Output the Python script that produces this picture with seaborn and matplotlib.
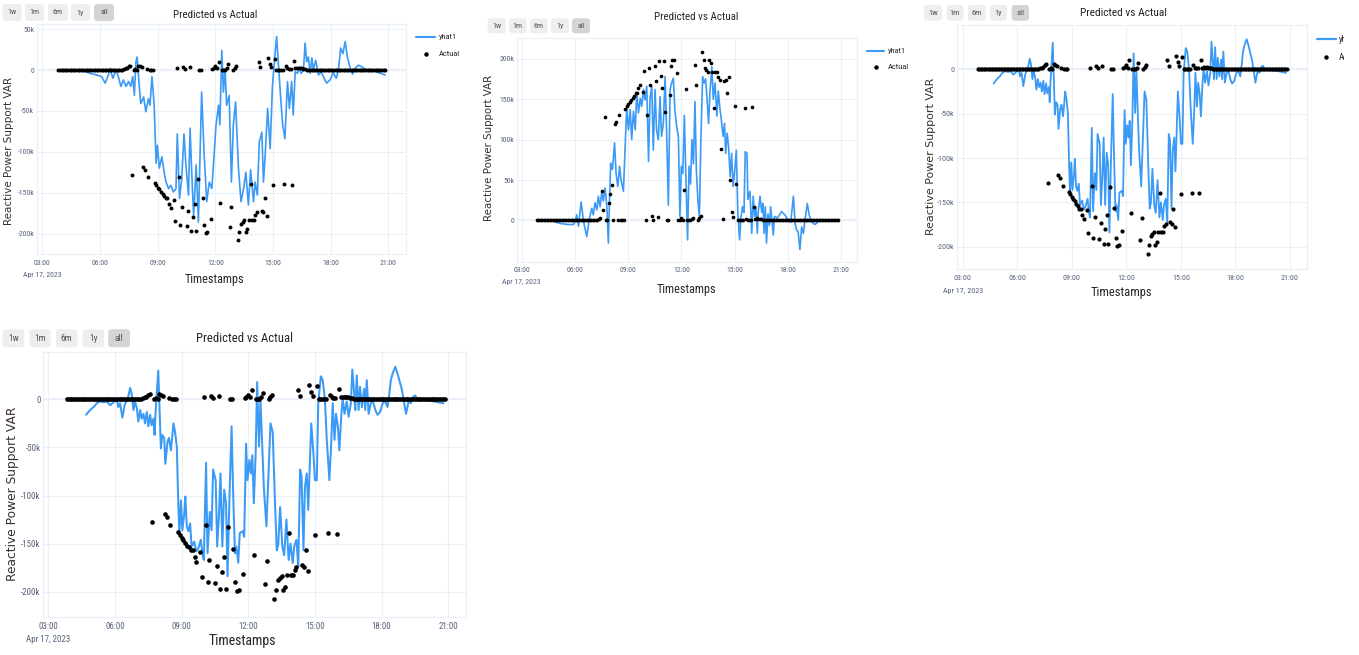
import numpy as np
import pandas as pd
import matplotlib
matplotlib.use("Agg")
import matplotlib.pyplot as plt
import matplotlib.dates as mdates
import matplotlib.transforms as mtransforms
from matplotlib.patches import FancyBboxPatch, Rectangle
from matplotlib.lines import Line2D
from matplotlib import font_manager
import seaborn as sns

DAY = "2023-04-17"

# ---------------------------------------------------------------------------
# Forecast (yhat1) traces, reactive power in kVAR
# ---------------------------------------------------------------------------
# model run A (first panel)
pred_a_times = [
    "04:40", "05:00", "05:15", "05:29", "05:50", "06:05", "06:16", "06:26", "06:31", "06:40",
    "06:50", "06:57", "07:05", "07:13", "07:21", "07:29", "07:36", "07:42", "07:47", "07:52",
    "07:56", "08:02", "08:07", "08:16", "08:23", "08:31", "08:36", "08:42", "08:49", "08:55",
    "08:59", "09:05", "09:13", "09:20", "09:26", "09:34", "09:41", "09:49", "09:57", "10:01",
    "10:08", "10:15", "10:22", "10:28", "10:36", "10:41", "10:46", "10:52", "11:00", "11:07",
    "11:17", "11:25", "11:33", "11:41", "11:49", "11:56", "12:02", "12:10", "12:14", "12:20",
    "12:25", "12:30", "12:35", "12:43", "12:50", "12:56", "13:03", "13:12", "13:20", "13:28",
    "13:35", "13:43", "13:50", "13:59", "14:04", "14:11", "14:17", "14:25", "14:30", "14:36",
    "14:43", "14:51", "14:58", "15:04", "15:11", "15:18", "15:24", "15:30", "15:37", "15:45",
    "15:51", "15:58", "16:03", "16:09", "16:16", "16:22", "16:28", "16:35", "16:40", "16:45",
    "16:50", "16:56", "17:01", "17:06", "17:13", "17:22", "17:29", "17:37", "17:47", "17:58",
    "18:08", "18:17", "18:24", "18:31", "18:38", "18:45", "18:52", "19:01", "19:08", "19:16",
    "19:26", "19:37", "19:47", "20:03", "20:23", "20:50",
]
pred_a_k = [
    0, -1, -2, -4, -6, -8, -16, -6, 2, -10,
    0, -8, -20, -12, -20, -14, -20, -8, -31, 10,
    16, -18, -41, -33, -51, -35, -43, -8, -43, -114,
    -92, -120, -106, -125, -137, -145, -141, -149, -145, -78,
    -157, -133, -78, -116, -153, -71, -124, -178, -116, -186,
    -27, -104, -161, -137, -145, -104, -67, -43, -67, 24,
    -27, 2, -43, -31, -137, -67, -39, -120, -161, -145,
    -125, -165, -122, -161, -137, -153, -88, -76, -137, -100,
    -47, -96, -20, 10, 41, 0, -35, -67, -84, -14,
    -47, -14, -55, -2, -4, 2, -4, 0, 33, 10,
    16, -4, 15, 0, 12, -6, -2, -8, -16, -12,
    -3, -10, 0, 27, 20, 35, 16, 2, -5, 2,
    6, 4, 1, 0, -2, -6,
]

# model run B (third and fourth panels)
pred_b_times = [
    "04:42", "04:53", "05:02", "05:11", "05:20", "05:29", "05:38", "05:47", "05:56", "06:05",
    "06:09", "06:14", "06:20", "06:26", "06:32", "06:36", "06:41", "06:45", "06:50", "06:54",
    "06:59", "07:03", "07:08", "07:12", "07:17", "07:21", "07:26", "07:30", "07:35", "07:39",
    "07:44", "07:47", "07:50", "07:53", "07:57", "08:00", "08:04", "08:08", "08:13", "08:16",
    "08:22", "08:26", "08:31", "08:34", "08:38", "08:42", "08:47", "08:51", "08:54", "08:58",
    "09:02", "09:07", "09:10", "09:14", "09:18", "09:23", "09:27", "09:34", "09:40", "09:45",
    "09:52", "09:56", "10:00", "10:06", "10:10", "10:16", "10:21", "10:25", "10:32", "10:36",
    "10:41", "10:45", "10:50", "10:55", "11:00", "11:04", "11:09", "11:15", "11:19", "11:24",
    "11:28", "11:33", "11:37", "11:45", "11:49", "11:54", "11:58", "12:03", "12:07", "12:11",
    "12:15", "12:20", "12:24", "12:29", "12:33", "12:39", "12:42", "12:49", "13:00", "13:06",
    "13:12", "13:17", "13:21", "13:26", "13:32", "13:37", "13:43", "13:49", "13:54", "14:00",
    "14:04", "14:10", "14:15", "14:20", "14:24", "14:29", "14:33", "14:38", "14:42", "14:50",
    "14:56", "15:00", "15:05", "15:09", "15:16", "15:21", "15:27", "15:32", "15:39", "15:44",
    "15:48", "15:53", "15:57", "16:02", "16:06", "16:11", "16:15", "16:20", "16:26", "16:31",
    "16:37", "16:41", "16:46", "16:49", "16:53", "16:58", "17:02", "17:07", "17:13", "17:16",
    "17:20", "17:25", "17:31", "17:36", "17:43", "17:49", "17:56", "18:03", "18:10", "18:16",
    "18:21", "18:25", "18:30", "18:37", "18:43", "18:50", "18:55", "19:01", "19:06", "19:13",
    "19:19", "19:26", "19:31", "19:35", "19:44", "19:58", "20:20", "20:47",
]
pred_b_k = [
    -16, -11, -8, -4, -2, -3, -2, -6, -3, 0,
    -8, -4, -19, -6, -1, 3, 12, 6, -11, -2,
    -9, -23, -11, -20, -15, -25, -13, -28, -16, -27,
    -20, -37, -11, 6, 30, -4, -51, -37, -40, -67,
    -44, -40, -53, -42, -25, -33, -49, -108, -139, -105,
    -136, -119, -101, -132, -137, -129, -153, -148, -158, -155,
    -146, -160, -167, -66, -160, -117, -136, -73, -84, -153,
    -119, -77, -153, -94, -108, -184, -105, -28, -94, -160,
    -153, -170, -139, -137, -143, -46, -84, -63, -77, -58,
    -108, -56, 18, -49, -1, -63, -91, -132, -25, -34,
    -105, -157, -151, -112, -153, -162, -125, -167, -150, -170,
    -153, -146, -174, -73, -80, -157, -91, -77, -115, -25,
    -56, -84, -84, -4, 24, 20, 0, -42, -84, -46,
    -4, -42, -15, -28, -53, -18, 1, -15, -2, -18,
    -4, 31, 6, -11, 25, -11, 13, -8, 11, -11,
    20, -15, -4, -1, -11, -16, -13, -4, -2, -8,
    6, 20, 27, 34, 27, 17, 10, -4, -15, -2,
    -4, 3, 4, 1, 0, -1, -2, -4,
]

# model run C (second panel, positive support)
pred_c_times = [
    "04:53", "05:15", "05:38", "05:55", "06:01", "06:06", "06:12", "06:21", "06:29", "06:40",
    "06:48", "06:57", "07:02", "07:08", "07:14", "07:19", "07:25", "07:31", "07:36", "07:42",
    "07:48", "07:53", "07:57", "08:01", "08:07", "08:14", "08:19", "08:25", "08:31", "08:36",
    "08:44", "08:50", "08:55", "09:01", "09:07", "09:12", "09:18", "09:24", "09:29", "09:35",
    "09:41", "09:46", "09:52", "09:57", "10:03", "10:09", "10:14", "10:20", "10:25", "10:31",
    "10:36", "10:42", "10:48", "10:53", "10:59", "11:05", "11:10", "11:16", "11:22", "11:27",
    "11:33", "11:38", "11:44", "11:50", "11:55", "12:00", "12:05", "12:10", "12:15", "12:21",
    "12:26", "12:31", "12:36", "12:41", "12:46", "12:51", "12:56", "13:01", "13:06", "13:12",
    "13:17", "13:22", "13:27", "13:32", "13:37", "13:43", "13:48", "13:54", "14:00", "14:05",
    "14:10", "14:15", "14:21", "14:26", "14:30", "14:35", "14:40", "14:45", "14:50", "14:55",
    "15:00", "15:06", "15:11", "15:17", "15:22", "15:27", "15:32", "15:36", "15:42", "15:45",
    "15:52", "15:58", "16:03", "16:08", "16:12", "16:17", "16:20", "16:26", "16:32", "16:36",
    "16:40", "16:44", "16:48", "16:53", "16:58", "17:02", "17:07", "17:11", "17:15", "17:25",
    "17:39", "17:50", "18:02", "18:10", "18:19", "18:25", "18:30", "18:35", "18:41", "18:47",
    "18:53", "18:58", "19:06", "19:13", "19:21", "19:32", "19:45", "20:00", "20:20", "20:50",
]
pred_c_k = [
    -2, -4, -5, -5, -1, 7, -7, 23, -1, -20,
    1, 15, 7, 22, 13, 30, 17, 36, 24, 40,
    17, -28, 26, 71, 63, 96, 59, 42, 67, 50,
    36, 92, 139, 112, 137, 100, 135, 112, 158, 133,
    151, 141, 162, 149, 166, 73, 151, 166, 87, 162,
    112, 100, 153, 104, 120, 178, 112, 19, 162, 170,
    176, 137, 116, 104, 5, 67, 58, 130, 60, -24,
    67, 45, 100, 70, 147, 60, 25, 5, 100, 178,
    170, 175, 150, 120, 160, 190, 150, 170, 129, 160,
    140, 125, 104, 120, 83, 108, 90, 54, 83, 42,
    60, 87, 9, -24, 5, 17, 10, 85, 83, 26,
    36, -16, 30, 5, 17, -16, 10, 30, 10, 21,
    -16, 17, -28, 8, -6, 17, -2, -18, 5, 3,
    11, 7, 0, -2, 30, -4, -12, -14, -36, -8,
    -16, 0, 21, 6, -2, -5, -1, 0, 0, 1,
]

# ---------------------------------------------------------------------------
# Measured reactive power, one reading every 5 minutes from 03:50 to 20:50
# (None = no reading)
# ---------------------------------------------------------------------------
ACTUAL_START = "03:50"

actual_neg_k = [
    # 03:50 - 07:10
    0, 0, 0, 0, 0, 0, 0, 0, 0, 0,
    0, 0, 0, 0, 0, 0, 0, 0, 0, 0,
    0, 0, 0, 0, 0, 0, 0, 0, 0, 0,
    0, 0, 0, 0, 0, 0, 0, 0, 0, 0,
    0,
    # 07:15 - 16:40
    1, 2, 3, 4.5, 5.5, -128, 0, 1, 0, 5.5,
    5, 4, -119, -122, 1, -131, 0, 0, 0, -138,
    -141, -144, -146, -149, -152, -154, -157, -157, -164, -169,
    None, -159, -185, 2, -131, -190, -167, 4, 1, -191,
    -173, 4, -197, -180, -164, -197, -133, 0, 0, -156,
    -190, -199, -198, None, -182, 1, 3, 4.5, 2, 10,
    -162, 0, 0, 0, 2, 7, -192, -168, 0, 3,
    5, -208, -198, -188, -186, -184, -198, -195, -183, -139,
    -183, -183, -177, -174, 10, 4, -172, -174, -157, -178,
    15, 8, 4, -141, 14, 0, 0, 0, 0, 0,
    -139, 4.5, 2, 1, 1, -140, 11, 2, 3, 2,
    3, 2, 1, 1,
    # 16:45 - 20:50
    0, 0, 0, 0, 0, 0, 0, 0, 0, 0,
    0, 0, 0, 0, 0, 0, 0, 0, 0, 0,
    0, 0, 0, 0, 0, 0, 0, 0, 0, 0,
    0, 0, 0, 0, 0, 0, 0, 0, 0, 0,
    0, 0, 0, 0, 0, 0, 0, 0, 0, 0,
]

actual_pos_k = [
    # 03:50 - 07:10
    0, 0, 0, 0, 0, 0, 0, 0, 0, 0,
    0, 0, 0, 0, 0, 0, 0, 0, 0, 0,
    0, 0, 0, 0, 0, 0, 0, 0, 0, 0,
    0, 0, 0, 0, 0, 0, 0, 0, 0, 0,
    0,
    # 07:15 - 16:40
    1, 2, 3, 37, 13, 128, 0, 0, 22, 33,
    44, 0, 119, 122, 0, 131, 0, 0, 0, 138,
    141, 144, 146, 149, 152, 154, 157, 157, 164, 168,
    None, 159, 185, 1, 131, 189, 167, 5, 1, 191,
    173, 4, 197, 179, 164, 197, 134, 0, 0, 155,
    191, 199, 198, None, 182, 0, 1, 3, 1, 38,
    162, 0, 0, 0, 2, 3, 192, 168, 0, 3,
    5, 208, 198, 188, 186, 184, 198, 195, 183, 139,
    183, 183, 177, 174, 88, 2, 172, 174, 157, 178,
    50, 10, 4, 141, 45, 0, 0, 0, 0, 0,
    139, 2, 1, 1, 1, 140, 17, 2, 3, 2,
    2, 2, 1, 1,
    # 16:45 - 20:50
    0, 0, 0, 0, 0, 0, 0, 0, 0, 0,
    0, 0, 0, 0, 0, 0, 0, 0, 0, 0,
    0, 0, 0, 0, 0, 0, 0, 0, 0, 0,
    0, 0, 0, 0, 0, 0, 0, 0, 0, 0,
    0, 0, 0, 0, 0, 0, 0, 0, 0, 0,
]

range_buttons = ["1w", "1m", "6m", "1y", "all"]
neg_ticks = [50, 0, -50, -100, -150, -200]
pos_ticks = [0, 50, 100, 150, 200]


# ---------------------------------------------------------------------------
# helpers
# ---------------------------------------------------------------------------
def stamp(hhmm):
    return pd.Timestamp(f"{DAY} {hhmm}")


def hours(h):
    return pd.Timestamp(DAY) + pd.Timedelta(hours=h)


def line_frame(times, values):
    return pd.DataFrame({"ds": [stamp(t) for t in times],
                         "y": np.array(values, dtype=float) * 1000.0})


def actual_frame(values):
    ds = pd.date_range(stamp(ACTUAL_START), periods=len(values), freq="5min")
    y = np.array([np.nan if v is None else v for v in values], dtype=float) * 1000.0
    return pd.DataFrame({"ds": ds, "y": y}).dropna()


def k_label(v):
    if v == 0:
        return "0"
    return ("-" if v < 0 else "") + f"{abs(int(v))}k"


sns.set_theme(style="white")
available = {f.name for f in font_manager.fontManager.ttflist}
NARROW = next((f for f in ["Liberation Sans Narrow", "Roboto Condensed",
                           "Open Sans Condensed", "Liberation Sans"] if f in available),
              "DejaVu Sans")
plt.rcParams["font.family"] = [NARROW, "DejaVu Sans"]

W, H = 1359, 655
fig = plt.figure(figsize=(W / 100, H / 100), dpi=100)
fig.patch.set_facecolor("white")

# pixel coordinates, origin top-left
PX = mtransforms.Affine2D().scale(1.0 / W, -1.0 / H).translate(0, 1) + fig.transFigure

LINE_C = "#3b9af5"
GRID_C = "#ebf0f8"
TICK_C = "#55627a"
TITLE_C = "#262626"
YLAB_C = "#3a2f28"

panels = [
    dict(box=(37, 24.3, 405.7, 254), xr=(2.72, 21.9), yr=(-225, 56),
         line=line_frame(pred_a_times, pred_a_k), act=actual_frame(actual_neg_k),
         yt=neg_ticks, title=(215, 15), tfs=7.9, tick_fs=5.6, tick_y=263.3,
         date=(42.3, 274.5), xlab=(214, 279.5), xfs=8.7, ylab=(9, 151), yfs=7.5,
         btn_y=(4, 21), btn_x=[(2.7, 21.7), (25, 44), (48, 68), (71, 90), (94, 114)],
         legend=dict(line=(416, 435, 37.3), text=439, mark=(425.7, 54)),
         lw=1.2, ms=8),
    dict(box=(517.3, 37.7, 857.3, 261.7), xr=(2.75, 21.92), yr=(-51, 226),
         line=line_frame(pred_c_times, pred_c_k), act=actual_frame(actual_pos_k),
         yt=pos_ticks, title=(696, 17), tfs=7.9, tick_fs=5.6, tick_y=270,
         date=(521.7, 281.7), xlab=(686, 289.5), xfs=8.7, ylab=(489.3, 147.5), yfs=7.4,
         btn_y=(18.3, 33.3),
         btn_x=[(487.7, 505.7), (509, 526.7), (530, 547.7), (551, 569), (572, 590)],
         legend=dict(line=(867, 884, 50.7), text=888, mark=(875.7, 66.7)),
         lw=1.2, ms=7),
    dict(box=(957.3, 25, 1306.7, 269.3), xr=(2.70, 21.92), yr=(-225.5, 50),
         line=line_frame(pred_b_times, pred_b_k), act=actual_frame(actual_neg_k),
         yt=neg_ticks[1:], title=(1123, 13), tfs=8.2, tick_fs=5.8, tick_y=278.3,
         date=(962.7, 291), xlab=(1121, 292.5), xfs=9.0, ylab=(931.0, 156.7), yfs=7.9,
         btn_y=(5, 20.7),
         btn_x=[(924, 942), (946.7, 963.3), (968, 985.7), (990, 1007), (1011.7, 1029)],
         legend=dict(line=(1316.7, 1335.7, 39.3), text=1338.5, mark=(1325.7, 57.3)),
         lw=1.3, ms=9),
    dict(box=(43.3, 352.3, 466, 616.7), xr=(2.775, 21.8), yr=(-226, 49),
         line=line_frame(pred_b_times, pred_b_k), act=actual_frame(actual_neg_k),
         yt=neg_ticks[1:], title=(245, 338.3), tfs=9.1, tick_fs=6.4, tick_y=626,
         date=(48.3, 640), xlab=(242, 641.5), xfs=10.0, ylab=(12.3, 494), yfs=8.8,
         btn_y=(329.3, 347.3),
         btn_x=[(2.7, 24.3), (29.3, 50.7), (56, 77.3), (82.7, 104), (108.3, 130)],
         legend=None, lw=1.45, ms=11),
]

for p in panels:
    x0, y0, x1, y1 = p["box"]
    ax = fig.add_axes([x0 / W, 1 - y1 / H, (x1 - x0) / W, (y1 - y0) / H])
    ax.set_facecolor("white")

    sns.lineplot(data=p["line"], x="ds", y="y", ax=ax, color=LINE_C,
                 linewidth=p["lw"], estimator=None, legend=False, zorder=2)
    sns.scatterplot(data=p["act"], x="ds", y="y", ax=ax, color="black",
                    s=p["ms"], linewidth=0, legend=False, zorder=3)

    ax.set_xlim(hours(p["xr"][0]), hours(p["xr"][1]))
    ax.set_ylim(p["yr"][0] * 1000, p["yr"][1] * 1000)
    ax.xaxis.set_major_locator(mdates.HourLocator(byhour=range(3, 22, 3)))
    ax.xaxis.set_major_formatter(mdates.DateFormatter("%H:%M"))
    ax.set_yticks([v * 1000 for v in p["yt"]])
    ax.set_yticklabels([k_label(v) for v in p["yt"]])
    ax.grid(True, color=GRID_C, linewidth=0.8, zorder=0)
    ax.axhline(0, color=GRID_C, linewidth=1.6, zorder=1)
    ax.set_axisbelow(True)
    for sp in ax.spines.values():
        sp.set_color(GRID_C)
        sp.set_linewidth(0.9)
    ax.tick_params(axis="both", length=0, colors=TICK_C, labelsize=p["tick_fs"])
    ax.tick_params(axis="y", pad=2)
    ax.tick_params(axis="x", pad=(p["tick_y"] - y1) * 0.72 - p["tick_fs"] * 0.45)
    ax.set_xlabel("")
    ax.set_ylabel("")

    # title, axis titles and date stamp
    fig.text(*p["title"], "Predicted vs Actual", transform=PX, ha="center", va="center",
             fontsize=p["tfs"], color=TITLE_C)
    fig.text(*p["xlab"], "Timestamps", transform=PX, ha="center", va="center",
             fontsize=p["xfs"], color=TITLE_C)
    fig.text(*p["date"], "Apr 17, 2023", transform=PX, ha="center", va="center",
             fontsize=p["tick_fs"], color=TICK_C)
    fig.text(*p["ylab"], "Reactive Power Support VAR", transform=PX, ha="center",
             va="center", rotation=90, fontsize=p["yfs"], color=YLAB_C,
             family=["DejaVu Sans"])

    # range selector buttons
    by0, by1 = p["btn_y"]
    for label, (bx0, bx1) in zip(range_buttons, p["btn_x"]):
        active = label == "all"
        box = FancyBboxPatch((bx0, by0), bx1 - bx0, by1 - by0,
                             boxstyle="round,pad=0,rounding_size=3",
                             transform=PX, facecolor="#d4d4d4" if active else "#eeeeee",
                             edgecolor="none", zorder=5)
        fig.patches.append(box)
        fig.text((bx0 + bx1) / 2, (by0 + by1) / 2, label, transform=PX, ha="center",
                 va="center", fontsize=p["tick_fs"] * 1.05, color="#555555", zorder=6)

    # legend
    lg = p["legend"]
    if lg is not None:
        lx0, lx1, ly = lg["line"]
        fig.add_artist(Line2D([lx0, lx1], [ly, ly], transform=PX, color=LINE_C,
                              linewidth=p["lw"] + 0.3))
        fig.text(lg["text"], ly, "yhat1", transform=PX, ha="left", va="center",
                 fontsize=p["tick_fs"] + 0.4, color=TITLE_C)
        mx, my = lg["mark"]
        fig.add_artist(Line2D([mx], [my], transform=PX, marker="o", markersize=2.2,
                              color="black", linestyle="none"))
        fig.text(lg["text"], my, "Actual", transform=PX, ha="left", va="center",
                 fontsize=p["tick_fs"] + 0.4, color=TITLE_C)

# the right-hand panel is cut off at the page edge
fig.patches.append(Rectangle((1344, 0), W - 1344, 320, transform=PX,
                             facecolor="white", edgecolor="none", zorder=20))

fig.savefig("out.png", dpi=100, facecolor="white")
